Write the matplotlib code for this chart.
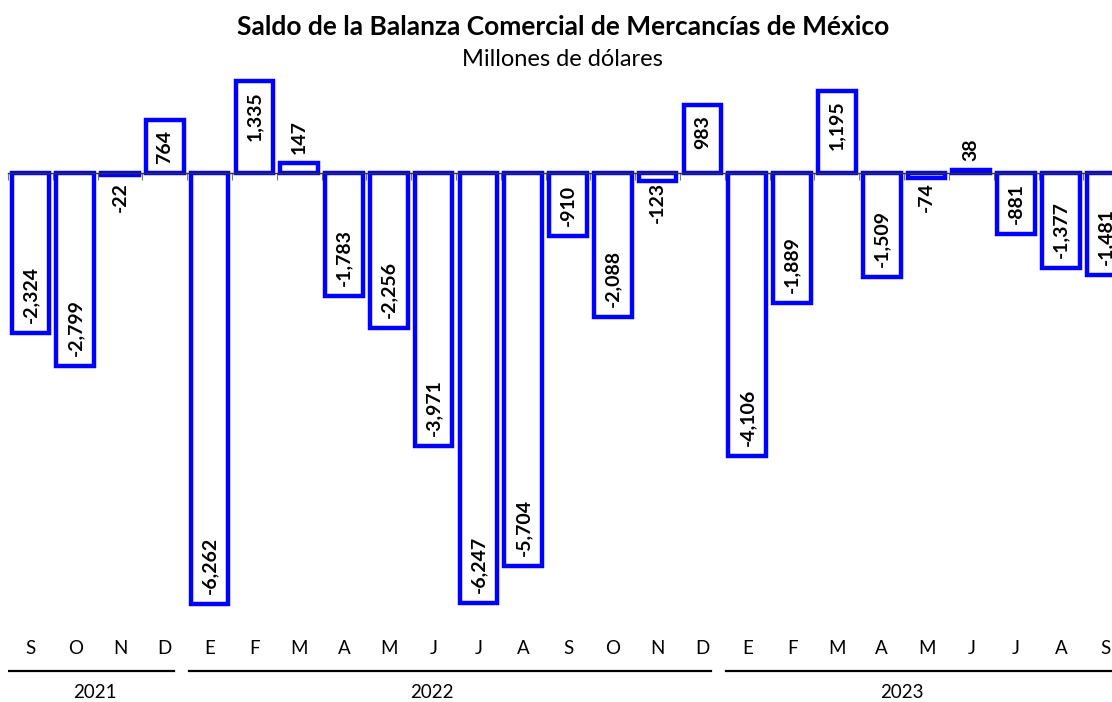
import numpy as np
import matplotlib.pyplot as plt

# -------------------------------
# Datos
# -------------------------------
meses = ["S", "O", "N", "D",
         "E", "F", "M", "A", "M", "J", "J", "A", "S", "O", "N", "D",
         "E", "F", "M", "A", "M", "J", "J", "A", "S"]
saldo = [-2324, -2799, -22, 764,
         -6262, 1335, 147, -1783, -2256, -3971, -6247, -5704, -910, -2088, -123, 983,
         -4106, -1889, 1195, -1509, -74, 38, -881, -1377, -1481]
anios = ["2021", "2022", "2023"]
anio_ini = [0, 4, 16]
anio_fin = [3, 15, 24]

plt.rcParams['font.family'] = ['Lato', 'DejaVu Sans']

W, H = 1112, 702
fig = plt.figure(figsize=(W / 100, H / 100), dpi=100)

# ejes principales (barras)
ax = fig.add_axes([8 / W, (H - 615) / H, (W - 8) / W, 540 / H])
x = np.arange(len(saldo))
ax.bar(x, saldo, width=0.84, color='white', edgecolor='#0000FF', linewidth=3.2, zorder=2)

for s in ['top', 'right', 'left']:
    ax.spines[s].set_visible(False)
ax.spines['bottom'].set_position(('data', 0))
ax.spines['bottom'].set_color('#333333')
ax.spines['bottom'].set_linewidth(1.0)
ax.spines['bottom'].set_zorder(3)
ax.set_yticks([])
ax.set_xticks(np.arange(-0.5, len(saldo), 1))
ax.tick_params(axis='x', length=5, width=0.8, color='#777777', labelbottom=False)

# etiquetas de valor
for i, v in enumerate(saldo):
    txt = f"{v:,}"
    if abs(v) < 500:
        if v < 0:
            ax.annotate(txt, (i, 0), xytext=(0, -9), textcoords='offset pixels',
                        rotation=90, ha='center', va='top', fontsize=14, fontweight='bold')
        else:
            ax.annotate(txt, (i, v), xytext=(0, 9), textcoords='offset pixels',
                        rotation=90, ha='center', va='bottom', fontsize=14, fontweight='bold')
    else:
        if v < 0:
            ax.annotate(txt, (i, v), xytext=(0, 10), textcoords='offset pixels',
                        rotation=90, ha='center', va='bottom', fontsize=14, fontweight='bold')
        else:
            ax.annotate(txt, (i, v), xytext=(0, -10), textcoords='offset pixels',
                        rotation=90, ha='center', va='top', fontsize=14, fontweight='bold')

# ejes inferiores (meses y años)
axb = fig.add_axes([8 / W, 0, (W - 8) / W, 75 / H], sharex=ax)
axb.set_ylim(0, 75)
axb.axis('off')
for i, m in enumerate(meses):
    axb.text(i, 75 - (648 - 627), m, ha='center', va='center', fontsize=13.5)

anio_pos = [1.45, 8.95, 19.45]
for a, i0, i1, p in zip(anios, anio_ini, anio_fin, anio_pos):
    axb.plot([i0 - 0.47, i1 + 0.2 if i1 < 24 else 25], [75 - (671 - 627)] * 2,
             color='black', lw=1.6, clip_on=True)
    axb.text(p, 75 - (693 - 627), a, ha='center', va='center', fontsize=13.5)

# límites al final (ejes compartidos)
ax.set_xlim(-0.5, 24.14)
ax.set_ylim(-6422, 1424)

# títulos
fig.text(563 / W, 1 - 27 / H, "Saldo de la Balanza Comercial de Mercancías de México",
         ha='center', va='center', fontsize=19, fontweight='bold')
fig.text(562 / W, 1 - 60 / H, "Millones de dólares", ha='center', va='center', fontsize=17)

fig.savefig("out.png", dpi=100)
